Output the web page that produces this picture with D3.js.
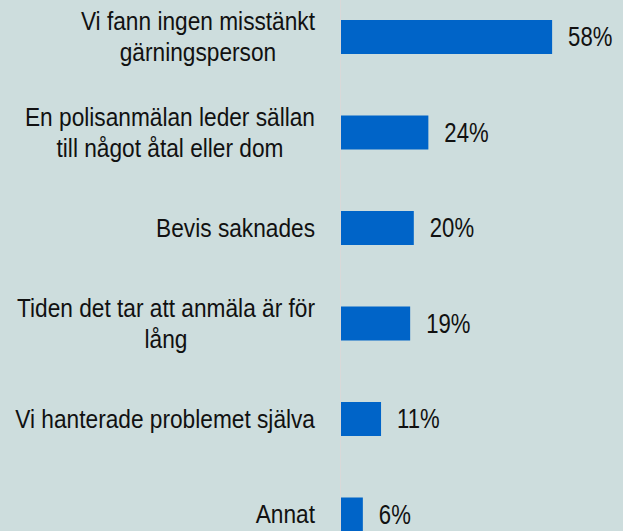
<!DOCTYPE html>
<html>
<head>
<meta charset="utf-8">
<script src="https://cdn.jsdelivr.net/npm/d3@7"></script>
<style>
    html, body { margin: 0; padding: 0; background: #cddddd; }
    svg { display: block; }
    .cat-label, .val-label { font-family: "Liberation Sans", Arial, sans-serif; fill: #111; }
</style>
</head>
<body>
<div id="chart"></div>
<script>
// Data
var categories = [
    "Vi fann ingen misstänkt gärningsperson",
    "En polisanmälan leder sällan till något åtal eller dom",
    "Bevis saknades",
    "Tiden det tar att anmäla är för lång",
    "Vi hanterade problemet själva",
    "Annat"
];
var categoryLines = [
    ["Vi fann ingen misstänkt", "gärningsperson"],
    ["En polisanmälan leder sällan", "till något åtal eller dom"],
    ["Bevis saknades"],
    ["Tiden det tar att anmäla är för", "lång"],
    ["Vi hanterade problemet själva"],
    ["Annat"]
];
var values = [58, 24, 20, 19, 11, 6];

var width = 623, height = 531;

var svg = d3.select("#chart").append("svg")
    .attr("width", width)
    .attr("height", height);

svg.append("rect")
    .attr("width", width)
    .attr("height", height)
    .attr("fill", "#cddddd");

// Scales
var y = d3.scaleBand()
    .domain(categories)
    .range([-10.75, 562.25])
    .paddingInner(0.644)
    .paddingOuter(0.322);

var x = d3.scaleLinear()
    .domain([0, 100])
    .range([341, 705]);

// axis line
svg.append("line")
    .attr("x1", x(0) - 0.5).attr("x2", x(0) - 0.5)
    .attr("y1", 0).attr("y2", height)
    .attr("stroke", "#d9d9d9")
    .attr("stroke-width", 1);

var rows = categories.map(function(c, i){
    return { name: c, lines: categoryLines[i], value: values[i] };
});

svg.selectAll(".bar")
    .data(rows)
    .enter().append("rect")
    .attr("class", "bar")
    .attr("x", x(0))
    .attr("y", function(d){ return y(d.name); })
    .attr("width", function(d){ return x(d.value) - x(0); })
    .attr("height", y.bandwidth())
    .attr("fill", "#0064c8");

// category labels, lines centred in a right-aligned block
var labelRight = 315, lineH = 31, labelSx = 0.89;

var lab = svg.selectAll(".cat")
    .data(rows)
    .enter().append("g")
    .attr("class", "cat")
    .attr("transform", function(d){
        return "translate(" + labelRight + "," + (y(d.name) + y.bandwidth() / 2) + ") scale(" + labelSx + ",1)";
    });

lab.each(function(d){
    var g = d3.select(this);
    var n = d.lines.length;
    var texts = g.selectAll("text")
        .data(d.lines)
        .enter().append("text")
        .attr("class", "cat-label")
        .attr("font-size", "25.5px")
        .attr("text-anchor", "middle")
        .attr("y", function(t, i){ return (i - (n - 1) / 2) * lineH; })
        .attr("dy", "0.35em")
        .text(function(t){ return t; });
    var maxW = d3.max(texts.nodes(), function(node){ return node.getComputedTextLength(); });
    texts.attr("x", -maxW / 2);
});

// value labels
svg.selectAll(".val")
    .data(rows)
    .enter().append("text")
    .attr("class", "val-label")
    .attr("font-size", "27px")
    .attr("transform", function(d){
        return "translate(" + (x(d.value) + 16) + "," + (y(d.name) + y.bandwidth() / 2) + ") scale(0.82,1)";
    })
    .attr("dy", "0.35em")
    .text(function(d){ return d.value + "%"; });
</script>
</body>
</html>
